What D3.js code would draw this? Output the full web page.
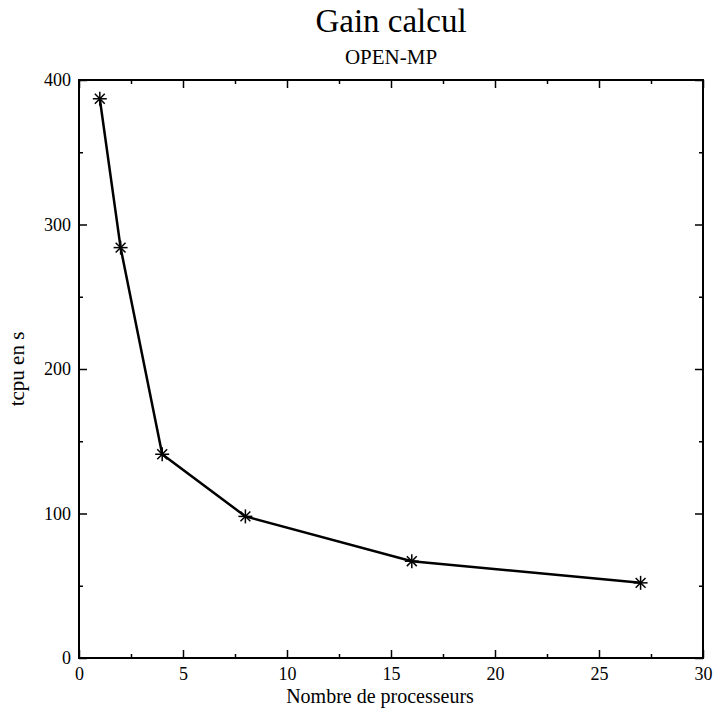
<!DOCTYPE html>
<html>
<head>
<meta charset="utf-8">
<script src="https://cdn.jsdelivr.net/npm/d3@7"></script>
<style>
  body { margin: 0; background: #fff; }
  svg { display: block; }
</style>
</head>
<body>
<div id="chart"></div>
<script>
const procs = [1, 2, 4, 8, 16, 27];
const tcpu = [387, 284, 141, 98, 67, 52];
const xTicks = [0, 5, 10, 15, 20, 25, 30];
const yTicks = [0, 100, 200, 300, 400];

const width = 716, height = 713;
const margin = { top: 80, right: 13, bottom: 55, left: 79 };

const svg = d3.select('#chart').append('svg')
  .attr('width', width)
  .attr('height', height);

const x = d3.scaleLinear().domain([0, 30]).range([margin.left, width - margin.right]);
const y = d3.scaleLinear().domain([0, 400]).range([height - margin.bottom, margin.top]);

// minor ticks every 2.5 / 50
const xMinor = d3.range(2.5, 30, 5);
const yMinor = d3.range(50, 400, 100);

const serif = "'Liberation Serif', 'Times New Roman', serif";

function drawAxis(axis, tr) {
  const g = svg.append('g').attr('transform', tr).call(axis);
  g.select('.domain').remove();
  g.selectAll('line').attr('stroke', '#000').attr('stroke-width', 1.5);
  g.selectAll('text').attr('font-family', serif).attr('font-size', 18).attr('fill', '#000');
  return g;
}

const bottomY = y(0), topY = y(400);
drawAxis(d3.axisBottom(x).tickValues(xTicks).tickSize(-8).tickPadding(9).tickFormat(d3.format('d')),
  `translate(0,${bottomY})`);
drawAxis(d3.axisBottom(x).tickValues(xMinor).tickSize(-4).tickFormat(''), `translate(0,${bottomY})`);
drawAxis(d3.axisTop(x).tickValues(xTicks).tickSize(-8).tickFormat(''), `translate(0,${topY})`);
drawAxis(d3.axisTop(x).tickValues(xMinor).tickSize(-4).tickFormat(''), `translate(0,${topY})`);

const leftX = x(0), rightX = x(30);
drawAxis(d3.axisLeft(y).tickValues(yTicks).tickSize(-8).tickPadding(8),
  `translate(${leftX},0)`);
drawAxis(d3.axisLeft(y).tickValues(yMinor).tickSize(-4).tickFormat(''), `translate(${leftX},0)`);
drawAxis(d3.axisRight(y).tickValues(yTicks).tickSize(-8).tickFormat(''), `translate(${rightX},0)`);
drawAxis(d3.axisRight(y).tickValues(yMinor).tickSize(-4).tickFormat(''), `translate(${rightX},0)`);

// frame
svg.append('rect')
  .attr('x', leftX).attr('y', topY)
  .attr('width', rightX - leftX).attr('height', bottomY - topY)
  .attr('fill', 'none').attr('stroke', '#000').attr('stroke-width', 2);

const pts = procs.map((p, i) => [p, tcpu[i]]);

svg.append('path')
  .datum(pts)
  .attr('fill', 'none')
  .attr('stroke', '#000')
  .attr('stroke-width', 2.5)
  .attr('d', d3.line().x(d => x(d[0])).y(d => y(d[1])));

// asterisk markers
const r = 7;
const arms = [0, 45, 90, 135];
const marks = svg.append('g').selectAll('g').data(pts).join('g')
  .attr('transform', d => `translate(${x(d[0])},${y(d[1])})`);
arms.forEach(a => {
  const rad = a * Math.PI / 180;
  marks.append('line')
    .attr('x1', -r * Math.cos(rad)).attr('y1', -r * Math.sin(rad))
    .attr('x2', r * Math.cos(rad)).attr('y2', r * Math.sin(rad))
    .attr('stroke', '#000').attr('stroke-width', 1.5);
});

// titles
const cx = (leftX + rightX) / 2;
svg.append('text').attr('x', cx).attr('y', 32)
  .attr('text-anchor', 'middle').attr('font-family', serif).attr('font-size', 33)
  .text('Gain calcul');
svg.append('text').attr('x', cx).attr('y', 64)
  .attr('text-anchor', 'middle').attr('font-family', serif).attr('font-size', 21)
  .text('OPEN-MP');

svg.append('text').attr('x', 380).attr('y', 703)
  .attr('text-anchor', 'middle').attr('font-family', serif).attr('font-size', 20)
  .text('Nombre de processeurs');
svg.append('text')
  .attr('transform', `translate(24,${(topY + bottomY) / 2}) rotate(-90)`)
  .attr('text-anchor', 'middle').attr('font-family', serif).attr('font-size', 21)
  .text('tcpu en s');
</script>
</body>
</html>
